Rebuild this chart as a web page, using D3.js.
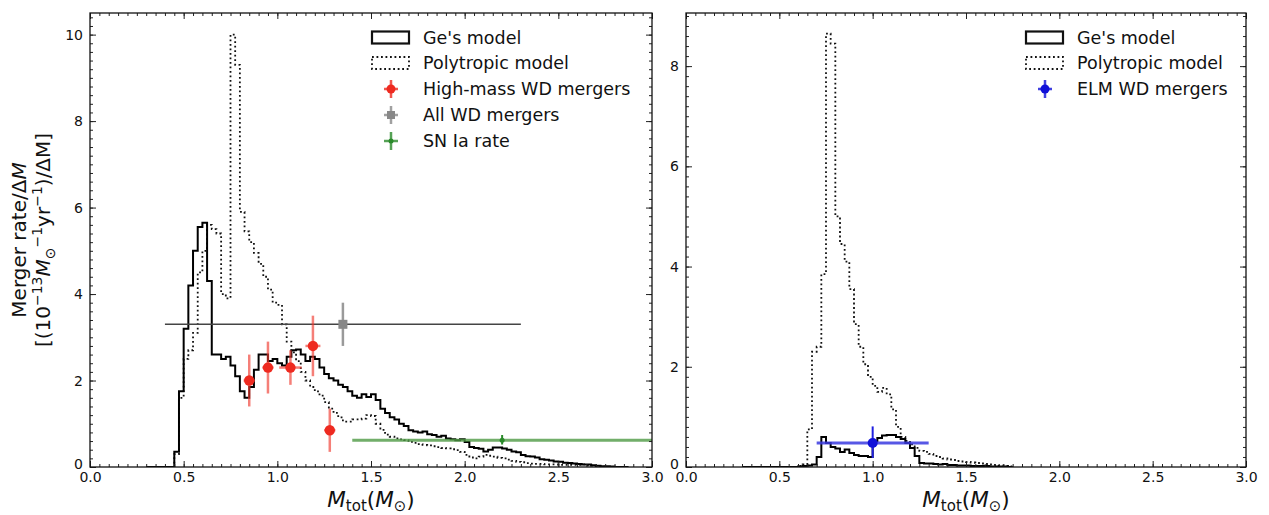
<!DOCTYPE html>
<html><head><meta charset="utf-8">
<script src="https://cdn.jsdelivr.net/npm/d3@7"></script>
<style>body{margin:0;background:#fff}svg{display:block}text{font-family:"DejaVu Sans",sans-serif;fill:#111}</style>
</head><body>
<svg id="c" width="1269" height="515"></svg>
<script>
// ---------------- DATA ----------------
const binStart = 0.3;
const binWidth = 0.025;
// Left panel: Ge's model (bins from 0.3, width 0.025)
const leftGe = [0,0,0,0,0,0,0.35,1.75,3.2,4.2,5.0,5.55,5.65,4.3,2.6,2.6,2.5,2.55,2.35,2.1,1.75,1.6,1.85,2.25,2.6,2.6,2.45,2.5,2.4,2.35,2.55,2.7,2.72,2.6,2.45,2.55,2.5,2.3,2.15,2.05,2.0,1.9,1.85,1.75,1.65,1.6,1.68,1.62,1.68,1.55,1.35,1.25,1.15,1.1,1.0,0.95,0.85,0.82,0.8,0.82,0.76,0.74,0.7,0.72,0.66,0.64,0.62,0.64,0.58,0.46,0.44,0.42,0.36,0.4,0.45,0.45,0.43,0.4,0.36,0.34,0.28,0.25,0.24,0.22,0.18,0.17,0.15,0.13,0.12,0.1,0.09,0.08,0.07,0.06,0.06,0.04,0.03,0.02,0.02,0.01,0,0,0];
// Left panel: Polytropic model
const leftPoly = [0,0,0,0,0,0,0.3,1.6,2.5,2.7,3.1,4.5,5.0,5.6,5.5,5.4,4.0,3.9,10.0,9.3,5.9,5.45,5.2,4.95,4.7,4.4,4.1,3.8,3.75,3.3,2.9,2.65,2.45,2.2,2.0,1.85,1.75,1.65,1.5,1.35,1.25,1.15,1.05,1.05,1.1,1.1,1.12,1.2,1.18,1.0,0.86,0.75,0.7,0.66,0.64,0.62,0.58,0.56,0.53,0.51,0.5,0.48,0.46,0.44,0.43,0.41,0.39,0.35,0.28,0.22,0.2,0.24,0.28,0.26,0.24,0.21,0.2,0.17,0.14,0.12,0.11,0.09,0.08,0.07,0.07,0.06,0.06,0.06,0.05,0.05,0.05,0.05,0.05,0.06,0.04,0.03,0.02,0.01,0,0,0,0,0];
// Right panel: Ge's model
const rightGe = [0,0,0,0,0,0,0,0,0,0,0,0,0.01,0.02,0.03,0.05,0.2,0.6,0.48,0.4,0.37,0.3,0.35,0.28,0.24,0.22,0.22,0.2,0.52,0.58,0.63,0.64,0.64,0.6,0.56,0.48,0.38,0.22,0.08,0.07,0.07,0.06,0.05,0.06,0.04,0.04,0.03,0.03,0.03,0.02,0.02,0.02,0.02,0.01,0.01,0.01,0.01,0];
// Right panel: Polytropic model
const rightPoly = [0,0,0,0,0,0,0,0,0,0,0,0,0.02,0.05,0.75,2.3,2.4,3.85,8.65,8.45,5.0,4.45,4.1,3.55,2.85,2.4,2.05,1.8,1.62,1.5,1.58,1.45,1.15,0.8,0.6,0.52,0.45,0.38,0.32,0.3,0.26,0.22,0.2,0.17,0.15,0.14,0.12,0.11,0.1,0.09,0.08,0.07,0.06,0.05,0.04,0.03,0.02,0.01];

// Observational points
const highMassX = [0.85, 0.95, 1.07, 1.19, 1.28];
const highMassY = [2.0, 2.3, 2.3, 2.8, 0.85];
const highMassXerr = [0.03, 0.03, 0.06, 0.04, 0.03];
const highMassYerr = [0.6, 0.6, 0.4, 0.7, 0.5];
const allWD = {x: 1.35, y: 3.3, xlo: 0.95, xhi: 0.95, ylo: 0.5, yhi: 0.5};
const snIa = {x: 2.2, y: 0.62, xlo: 0.8, xhi: 0.85, ylo: 0.1, yhi: 0.12};
const elmWD = {x: 1.0, y: 0.48, xlo: 0.3, xhi: 0.3, ylo: 0.3, yhi: 0.33};

const xTicks = [0.0, 0.5, 1.0, 1.5, 2.0, 2.5, 3.0];
const yTicksLeft = [0, 2, 4, 6, 8, 10];
const yTicksRight = [0, 2, 4, 6, 8];
const legendLeft = ["Ge's model", "Polytropic model", "High-mass WD mergers", "All WD mergers", "SN Ia rate"];
const legendRight = ["Ge's model", "Polytropic model", "ELM WD mergers"];

// ---------------- DRAW ----------------
const svg = d3.select("#c");
const yTop = 13, yBottom = 467;
const DOT = "1.8,2.7";

function stepPoints(vals){
  const pts = [[binStart, 0]];
  vals.forEach((v, i) => {
    const e0 = binStart + i*binWidth, e1 = e0 + binWidth;
    pts.push([e0, v]); pts.push([e1, v]);
  });
  pts.push([binStart + vals.length*binWidth, 0]);
  return pts;
}

function panel(id, x0, x1, ymax, yTicks, geVals, polyVals){
  const x = d3.scaleLinear().domain([0, 3]).range([x0, x1]);
  const y = d3.scaleLinear().domain([0, ymax]).range([yBottom, yTop]);
  const g = svg.append("g");
  g.append("clipPath").attr("id", "clip"+id).append("rect")
    .attr("x", x0).attr("y", yTop).attr("width", x1-x0).attr("height", yBottom-yTop);
  const line = d3.line().x(d => x(d[0])).y(d => y(d[1]));
  const plot = g.append("g").attr("clip-path", `url(#clip${id})`);
  plot.append("path").attr("d", line(stepPoints(polyVals)))
    .attr("fill", "none").attr("stroke", "#111").attr("stroke-width", 1.8)
    .attr("stroke-dasharray", DOT);
  plot.append("path").attr("d", line(stepPoints(geVals)))
    .attr("fill", "none").attr("stroke", "#000").attr("stroke-width", 2);

  const minorX = d3.range(0, 3.0001, 0.05);
  const minorY = d3.range(0, ymax, 0.2);
  const axB = d3.axisBottom(x).tickValues(xTicks).tickFormat(d3.format(".1f")).tickSizeInner(-6).tickSizeOuter(0).tickPadding(5);
  const axT = d3.axisTop(x).tickValues(xTicks).tickFormat("").tickSizeInner(-6).tickSizeOuter(0);
  const axL = d3.axisLeft(y).tickValues(yTicks).tickFormat(d3.format("d")).tickSizeInner(-6).tickSizeOuter(0).tickPadding(7);
  const axR = d3.axisRight(y).tickValues(yTicks).tickFormat("").tickSizeInner(-6).tickSizeOuter(0);
  const mB = d3.axisBottom(x).tickValues(minorX).tickFormat("").tickSizeInner(-3).tickSizeOuter(0);
  const mT = d3.axisTop(x).tickValues(minorX).tickFormat("").tickSizeInner(-3).tickSizeOuter(0);
  const mL = d3.axisLeft(y).tickValues(minorY).tickFormat("").tickSizeInner(-3).tickSizeOuter(0);
  const mR = d3.axisRight(y).tickValues(minorY).tickFormat("").tickSizeInner(-3).tickSizeOuter(0);
  const axes = [[axB, `translate(0,${yBottom})`],[axT, `translate(0,${yTop})`],[axL, `translate(${x0},0)`],[axR, `translate(${x1},0)`],
                [mB, `translate(0,${yBottom})`],[mT, `translate(0,${yTop})`],[mL, `translate(${x0},0)`],[mR, `translate(${x1},0)`]];
  axes.forEach(([a, t]) => {
    const ag = g.append("g").attr("transform", t).call(a);
    ag.select(".domain").remove();
    ag.selectAll("line").attr("stroke", "#222");
    ag.selectAll("text").attr("font-size", 14).attr("font-family", "DejaVu Sans").attr("fill", "#222");
  });
  // lift the "0" y label slightly so it clears the x labels below it
  g.selectAll(".tick text").filter(function(){ return this.textContent === "0"; }).attr("dy", "0.1em");
  g.append("rect").attr("x", x0).attr("y", yTop).attr("width", x1-x0).attr("height", yBottom-yTop)
    .attr("fill", "none").attr("stroke", "#111").attr("stroke-width", 1.3);

  const xl = g.append("text").attr("x", (x0+x1)/2).attr("y", 507).attr("text-anchor", "middle").attr("font-size", 21.5);
  xl.append("tspan").attr("font-style", "italic").text("M");
  xl.append("tspan").attr("font-size", 15).attr("dy", 4).text("tot");
  xl.append("tspan").attr("dy", -4).text("(");
  xl.append("tspan").attr("font-style", "italic").text("M");
  xl.append("tspan").attr("font-size", 15).attr("dy", 4).text("\u2299");
  xl.append("tspan").attr("dy", -4).text(")");
  return {x, y, g, plot};
}

function errbar(P, d, opts){
  const {x, y, plot} = P;
  plot.append("line").attr("x1", x(d.x - d.xlo)).attr("x2", x(d.x + d.xhi)).attr("y1", y(d.y)).attr("y2", y(d.y))
    .attr("stroke", opts.hcolor).attr("stroke-width", opts.hw).attr("stroke-opacity", opts.hop ?? 1);
  plot.append("line").attr("x1", x(d.x)).attr("x2", x(d.x)).attr("y1", y(d.y - d.ylo)).attr("y2", y(d.y + d.yhi))
    .attr("stroke", opts.vcolor).attr("stroke-width", opts.vw).attr("stroke-opacity", opts.vop ?? 1);
  if (opts.marker === "square") {
    plot.append("rect").attr("x", x(d.x)-4.5).attr("y", y(d.y)-4.5).attr("width", 9).attr("height", 9).attr("fill", opts.mcolor);
  } else {
    plot.append("circle").attr("cx", x(d.x)).attr("cy", y(d.y)).attr("r", opts.r).attr("fill", opts.mcolor);
  }
}

const L = panel("L", 90, 652, 10.5, yTicksLeft, leftGe, leftPoly);
const R = panel("R", 686, 1246, 9.06, yTicksRight, rightGe, rightPoly);

errbar(L, allWD, {hcolor:"#444", hw:1.4, vcolor:"#9a9a9a", vw:2.5, mcolor:"#888", marker:"square"});
errbar(L, snIa, {hcolor:"#4f9a45", hw:3, hop:0.8, vcolor:"#2a8a2a", vw:2, mcolor:"#2a8a2a", r:2.5});
highMassX.forEach((hx, i) => {
  errbar(L, {x: hx, y: highMassY[i], xlo: highMassXerr[i], xhi: highMassXerr[i], ylo: highMassYerr[i], yhi: highMassYerr[i]},
    {hcolor:"#f03a30", hw:2.5, hop:0.65, vcolor:"#f03a30", vw:2.5, vop:0.65, mcolor:"#ee2a20", r:5.2});
});
errbar(R, elmWD, {hcolor:"#3a3ae0", hw:3, hop:0.85, vcolor:"#2020e0", vw:2, mcolor:"#1010d8", r:5});

function legend(lx, labels, markers){
  const g = svg.append("g");
  const rowY = [37.5, 63, 89, 115, 141];
  labels.forEach((lab, i) => {
    const yy = rowY[i];
    const m = markers[i];
    if (m.type === "patch") {
      g.append("rect").attr("x", lx).attr("y", yy-6).attr("width", 37).attr("height", 12)
        .attr("fill", "none").attr("stroke", "#111").attr("stroke-width", m.dash ? 1.8 : 2.2)
        .attr("stroke-dasharray", m.dash ? DOT : null);
    } else {
      const cx = lx + 19;
      g.append("line").attr("x1", cx-7).attr("x2", cx+7).attr("y1", yy).attr("y2", yy).attr("stroke", m.color).attr("stroke-width", 2.5).attr("stroke-opacity", 0.8);
      g.append("line").attr("x1", cx).attr("x2", cx).attr("y1", yy-9).attr("y2", yy+9).attr("stroke", m.color).attr("stroke-width", 2.5).attr("stroke-opacity", 0.8);
      if (m.square) g.append("rect").attr("x", cx-4).attr("y", yy-4).attr("width", 8).attr("height", 8).attr("fill", m.color);
      else g.append("circle").attr("cx", cx).attr("cy", yy).attr("r", m.r).attr("fill", m.color);
    }
    g.append("text").attr("x", lx + 51).attr("y", yy).attr("dy", "0.35em").attr("font-size", 17.5).text(lab);
  });
}
legend(372, legendLeft, [
  {type:"patch"}, {type:"patch", dash:true},
  {type:"pt", color:"#ee2a20", r:4.5}, {type:"pt", color:"#888", square:true}, {type:"pt", color:"#2a8a2a", r:2.5}
]);
legend(1026, legendRight, [
  {type:"patch"}, {type:"patch", dash:true}, {type:"pt", color:"#1010d8", r:4.5}
]);

const yl = svg.append("g").attr("transform", "translate(26,240) rotate(-90)");
const t1 = yl.append("text").attr("text-anchor", "middle").attr("font-size", 20).attr("y", 0);
t1.append("tspan").text("Merger rate/\u0394");
t1.append("tspan").attr("font-style", "italic").text("M");
const t2 = yl.append("text").attr("text-anchor", "middle").attr("font-size", 20).attr("y", 24);
t2.append("tspan").text("[(10");
t2.append("tspan").attr("font-size", 14).attr("dy", -8).text("\u221213");
t2.append("tspan").attr("dy", 8).attr("font-style", "italic").text("M");
t2.append("tspan").attr("font-size", 14).attr("dy", 5).text("\u2299");
t2.append("tspan").attr("font-size", 14).attr("dy", -13).text("\u22121");
t2.append("tspan").attr("dy", 8).text("yr");
t2.append("tspan").attr("font-size", 14).attr("dy", -8).text("\u22121");
t2.append("tspan").attr("dy", 8).text(")/\u0394M]");
</script>
</body></html>
